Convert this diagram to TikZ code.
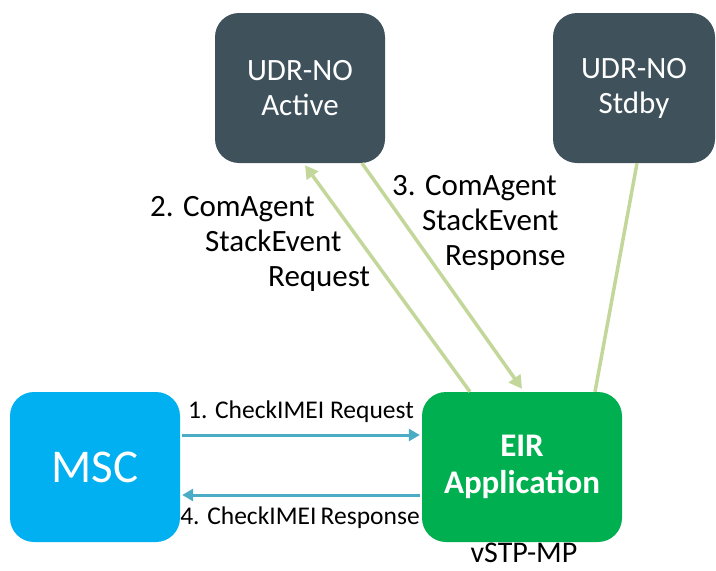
\documentclass[tikz,border=0pt]{standalone}
\usepackage{fontspec}
\setmainfont{Carlito}
\usetikzlibrary{arrows.meta,calc}
\definecolor{udrgray}{HTML}{3F525C}
\definecolor{msccyan}{HTML}{00B0F0}
\definecolor{eirgreen}{HTML}{00B050}
\definecolor{msgblue}{HTML}{4BACC6}
\definecolor{linkgreen}{HTML}{C4D79B}
\begin{document}
\begin{tikzpicture}[x=1pt,y=-1pt,
  box/.style={rounded corners=24pt, inner sep=0pt, align=center, text=white},
  udrbox/.style={box, fill=udrgray, minimum width=170pt, minimum height=150pt, font=\fontsize{31}{35}\selectfont},
  greenlink/.style={draw=linkgreen, line width=3.5pt},
  greenarrow/.style={greenlink, -{Triangle[length=13pt,width=14pt]}},
  bluearrow/.style={draw=msgblue, line width=3pt, -{Triangle[length=11pt,width=12pt]}},
  steplabel/.style={inner sep=0pt, align=left, font=\fontsize{31}{35}\selectfont, text=black},
  msglabel/.style={inner sep=0pt, font=\fontsize{25.5}{28}\selectfont, text=black}
]
\useasboundingbox (0,0) rectangle (716,571);
\node[udrbox] (act) at (300,88) {UDR-NO\\Active};
\node[udrbox, minimum width=162pt] (sb) at (634,88) {UDR-NO\\Stdby};
\node[box, fill=msccyan, minimum width=170pt, minimum height=150pt, font=\fontsize{47}{50}\selectfont] (msc) at (95,467) {MSC};
\node[box, fill=eirgreen, minimum width=200pt, minimum height=150pt, font=\fontsize{33}{37}\selectfont\bfseries] (eir) at (522,467) {EIR\\Application};
\node[msglabel, font=\fontsize{30}{35}\selectfont, anchor=base] (vstp) at (524,562) {vSTP-MP};

\draw[greenarrow] ($(eir.north)+(-52,0)$) -- ($(act.south)+(5,2)$);
\draw[greenarrow] ($(act.south)+(62,0)$) -- ($(eir.north)+(0,-3)$);
\draw[greenlink] ($(sb.south)+(3,0)$) -- ($(eir.north)+(73,0)$);

\draw[bluearrow] ($(msc.east)+(2,-32)$) -- ($(eir.west)+(-2,-32)$);
\draw[bluearrow] ($(eir.west)+(-2,28)$) -- ($(msc.east)+(2,28)$);

\node[msglabel, anchor=base] (req) at (301,418) {1. CheckIMEI Request};
\node[msglabel, anchor=base] (resp) at (300,524) {4. CheckIMEI\,Response};

\node[steplabel, anchor=north west] (l2) at (150,196) {2. ComAgent\\\hspace*{55pt}StackEvent\\\hspace*{118pt}Request};
\node[steplabel, anchor=north west] (l3) at (392,175) {3. ComAgent\\\hspace*{30pt}StackEvent\\\hspace*{53pt}Response};
\end{tikzpicture}
\end{document}
